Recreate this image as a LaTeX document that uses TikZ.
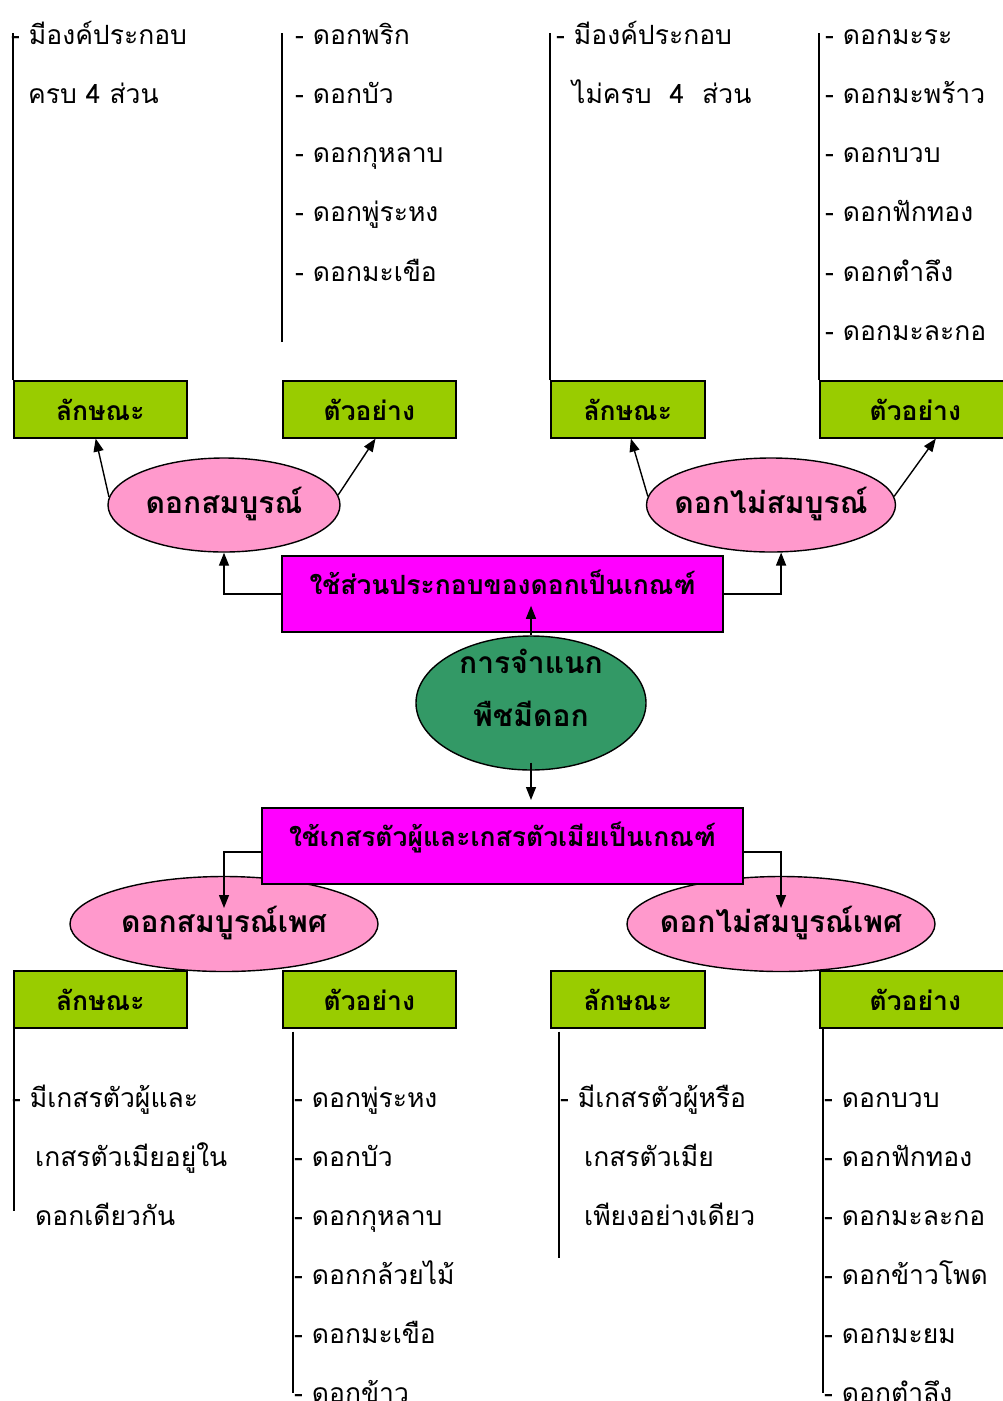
\documentclass[tikz,border=0pt]{standalone}
\usepackage{fontspec}
\newfontfamily\thaifont[Script=Thai]{Loma}
\usetikzlibrary{shapes.geometric}
\usetikzlibrary{arrows.meta}
\usetikzlibrary{calc}

\definecolor{leafgreen}{HTML}{99CC00}
\definecolor{petalpink}{HTML}{FF99CC}
\definecolor{critmagenta}{HTML}{FF00FF}
\definecolor{rootgreen}{HTML}{339966}

\newcommand{\boldthai}{\thaifont\bfseries\fontsize{26.5}{30}\selectfont}
\newcommand{\bigthai}{\thaifont\bfseries\fontsize{30}{53}\selectfont}
\newcommand{\plainthai}{\thaifont\fontsize{26.5}{30}\selectfont}

\tikzset{
  headbox/.style={rectangle, draw, line width=1.6pt, fill=leafgreen, inner sep=0pt,
    anchor=north west, minimum height=57pt, text height=40pt, text depth=17pt, font=\boldthai},
  flower/.style={ellipse, draw, line width=1.4pt, fill=petalpink, inner ysep=0pt, inner xsep=-20pt,
    text height=16.5pt, text depth=0pt, font=\bigthai},
  critbox/.style={rectangle, draw, line width=1.6pt, fill=critmagenta, inner sep=0pt,
    anchor=north, text height=39pt, text depth=37pt, font=\boldthai},
  item/.style={anchor=base west, inner sep=0pt, font=\plainthai},
  arr/.style={line width=1.4pt, -{Triangle[length=13pt,width=10pt]}},
  bar/.style={line width=1.8pt}
}

\begin{document}
\begin{tikzpicture}[x=1pt, y=-1pt]
  \useasboundingbox (0,0) rectangle (1002,1401);

  % top half: parts of the flower
  \node[headbox, minimum width=173pt] (tl1) at (13,380) {ลักษณะ};
  \node[headbox, minimum width=173pt] (tl2) at (282,380) {ตัวอย่าง};
  \node[headbox, minimum width=154pt] (tl3) at (550,380) {ลักษณะ};
  \node[headbox, minimum width=191pt] (tl4) at (819,380) {ตัวอย่าง};

  \draw[bar] (tl1.north west) -- ++(0,-347);
  \draw[bar] ([yshift=38pt]tl2.north west) -- ++(0,-309);
  \draw[bar] (tl3.north west) -- ++(0,-347);
  \draw[bar] (tl4.north west) -- ++(0,-347);

  \node[item] (tx1) at (11,44) {- มีองค์ประกอบ};
  \node[item] (tx2) at (28,103) {ครบ 4 ส่วน};
  \foreach \t [count=\i] in {ดอกพริก, ดอกบัว, ดอกกุหลาบ, ดอกพู่ระหง, ดอกมะเขือ}
    \node[item] (ex2-\i) at (295,{44+59.3*(\i-1)}) {- \t};
  \node[item] (tx3) at (556,44) {- มีองค์ประกอบ};
  \node[item] (tx4) at (572,103) {ไม่ครบ~~4~~ส่วน};
  \foreach \t [count=\i] in {ดอกมะระ, ดอกมะพร้าว, ดอกบวบ, ดอกฟักทอง, ดอกตำลึง, ดอกมะละกอ}
    \node[item] (ex4-\i) at (825,{44+59.3*(\i-1)}) {- \t};

  \node[flower, minimum width=232pt, minimum height=94pt] (pe1) at (224,505) {ดอกสมบูรณ์};
  \node[flower, minimum width=249pt, minimum height=94pt] (pe2) at (771,505) {ดอกไม่สมบูรณ์};

  \draw[arr] (pe1.176) -- (tl1.-99);
  \draw[arr] (pe1.5) -- (tl2.-78);
  \draw[arr] (pe2.176) -- (tl3.-84);
  \draw[arr] (pe2.4) -- (tl4.-55);

  \node[critbox, minimum width=441pt] (crit1) at (502.5,555) {ใช้ส่วนประกอบของดอกเป็นเกณฑ์};
  \draw[arr] (crit1.west) -| (pe1.south);
  \draw[arr] (crit1.east) -| (pe2.-78);

  % root
  \node[ellipse, draw, line width=1.4pt, fill=rootgreen, inner sep=0pt,
    minimum width=230pt, minimum height=134pt, text height=69.5pt, text depth=23pt,
    font=\bigthai] (root) at (531,703)
    {\begin{tabular}[b]{@{}c@{}}การจำแนก\\พืชมีดอก\end{tabular}};
  \draw[arr, shorten >=12pt] (root.north) -- (root.north |- crit1.center);

  % bottom half: stamens and pistils
  \node[flower, minimum width=308pt, minimum height=95pt] (pe3) at (224,924) {ดอกสมบูรณ์เพศ};
  \node[flower, minimum width=308pt, minimum height=95pt] (pe4) at (781,924) {ดอกไม่สมบูรณ์เพศ};

  \node[critbox, minimum width=481pt] (crit2) at (502.5,807) {ใช้เกสรตัวผู้และเกสรตัวเมียเป็นเกณฑ์};
  \draw[arr, shorten <=-8pt, shorten >=7pt] (root.south) -- (root.south |- crit2.north);
  \draw[arr, shorten >=16pt] ($(crit2.west)+(0,6)$) -| (pe3.center);
  \draw[arr, shorten >=16pt] ($(crit2.east)+(0,6)$) -| (pe4.center);

  \node[headbox, minimum width=173pt] (bl1) at (13,970) {ลักษณะ};
  \node[headbox, minimum width=173pt] (bl2) at (282,970) {ตัวอย่าง};
  \node[headbox, minimum width=154pt] (bl3) at (550,970) {ลักษณะ};
  \node[headbox, minimum width=191pt] (bl4) at (819,970) {ตัวอย่าง};

  \draw[bar] ([xshift=1pt]bl1.south west) -- ++(0,182);
  \draw[bar] ([xshift=11pt,yshift=-3pt]bl2.south west) -- ++(0,361);
  \draw[bar] ([xshift=9pt,yshift=-3pt]bl3.south west) -- ++(0,226);
  \draw[bar] ([xshift=4pt]bl4.south west) -- ++(0,364);

  \node[item] (tx5) at (12,1107) {- มีเกสรตัวผู้และ};
  \node[item] (tx6) at (35,1166) {เกสรตัวเมียอยู่ใน};
  \node[item] (tx7) at (35,1225) {ดอกเดียวกัน};
  \foreach \t [count=\i] in {ดอกพู่ระหง, ดอกบัว, ดอกกุหลาบ, ดอกกล้วยไม้, ดอกมะเขือ, ดอกข้าว}
    \node[item] (ex6-\i) at (294,{1107+59*(\i-1)}) {- \t};
  \node[item] (tx8) at (560,1107) {- มีเกสรตัวผู้หรือ};
  \node[item] (tx9) at (584,1166) {เกสรตัวเมีย};
  \node[item] (tx10) at (584,1225) {เพียงอย่างเดียว};
  \foreach \t [count=\i] in {ดอกบวบ, ดอกฟักทอง, ดอกมะละกอ, ดอกข้าวโพด, ดอกมะยม, ดอกตำลึง}
    \node[item] (ex8-\i) at (824,{1107+59*(\i-1)}) {- \t};
\end{tikzpicture}
\end{document}
